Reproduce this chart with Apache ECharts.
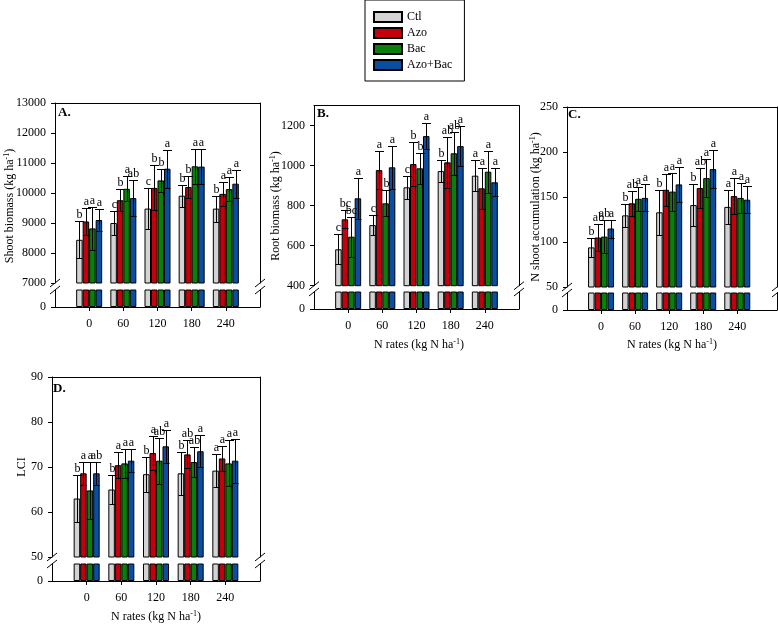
<!DOCTYPE html>
<html><head><meta charset="utf-8">
<script src="https://cdn.jsdelivr.net/npm/echarts@6/dist/echarts.min.js"></script>
<style>html,body{margin:0;padding:0;background:#fff}#c{width:778px;height:627px}</style>
</head><body><div id="c"></div>
<script>
// ---------- data ----------
const nRates = [0, 60, 120, 180, 240];
const treatments = ['Ctl', 'Azo', 'Bac', 'Azo+Bac'];

// A. Shoot biomass (kg ha-1)
const shootTicks = [7000, 8000, 9000, 10000, 11000, 12000, 13000];
const shootCtl = [8440, 9000, 9480, 9910, 9480];
const shootAzo = [9050, 9760, 10170, 10200, 9970];
const shootBac = [8820, 10140, 10420, 10890, 10130];
const shootAzoBac = [9100, 9830, 10810, 10880, 10310];
const shootCtlErr = [620, 410, 680, 370, 430];
const shootAzoErr = [450, 370, 750, 360, 390];
const shootBacErr = [710, 420, 390, 580, 390];
const shootAzoBacErr = [370, 590, 630, 590, 470];
const shootCtlSig = ['b', 'c', 'c', 'b', 'b'];
const shootAzoSig = ['a', 'b', 'b', 'b', 'a'];
const shootBacSig = ['a', 'a', 'b', 'a', 'a'];
const shootAzoBacSig = ['a', 'ab', 'a', 'a', 'a'];

// B. Root biomass (kg ha-1)
const rootTicks = [400, 600, 800, 1000, 1200];
const rootCtl = [582, 703, 892, 973, 950];
const rootAzo = [732, 978, 1008, 1017, 887];
const rootBac = [645, 812, 987, 1062, 970];
const rootAzoBac = [837, 992, 1148, 1098, 917];
const rootCtlErr = [75, 50, 58, 55, 78];
const rootAzoErr = [46, 95, 112, 128, 103];
const rootBacErr = [100, 66, 78, 108, 105];
const rootAzoBacErr = [103, 108, 67, 102, 70];
const rootCtlSig = ['c', 'c', 'c', 'b', 'a'];
const rootAzoSig = ['bc', 'a', 'b', 'ab', 'a'];
const rootBacSig = ['bc', 'b', 'b', 'ab', 'a'];
const rootAzoBacSig = ['a', 'a', 'a', 'a', 'a'];

// C. N shoot accumulation (kg ha-1)
const nTicks = [50, 100, 150, 200, 250];
const nCtl = [94, 129.6, 133, 141, 139];
const nAzo = [105, 143, 158, 160, 151];
const nBac = [106, 148, 156, 171, 149];
const nAzoBac = [115, 149, 164, 181, 147];
const nCtlErr = [11, 13, 25, 23, 19];
const nAzoErr = [15, 14, 18, 22, 20];
const nBacErr = [18, 13, 21, 21, 17];
const nAzoBacErr = [10, 15, 19, 21, 15];
const nCtlSig = ['b', 'b', 'b', 'b', 'a'];
const nAzoSig = ['ab', 'ab', 'a', 'ab', 'a'];
const nBacSig = ['ab', 'a', 'a', 'a', 'a'];
const nAzoBacSig = ['a', 'a', 'a', 'a', 'a'];

// D. LCI
const lciTicks = [50, 60, 70, 80, 90];
const lciCtl = [63.0, 65.0, 68.4, 68.6, 69.2];
const lciAzo = [68.6, 70.4, 73.1, 72.8, 71.9];
const lciBac = [64.8, 70.8, 71.4, 71.1, 70.8];
const lciAzoBac = [68.6, 71.4, 74.6, 73.5, 71.4];
const lciCtlErr = [5.2, 3.2, 3.9, 4.8, 3.7];
const lciAzoErr = [2.5, 2.9, 3.8, 3.1, 2.8];
const lciBacErr = [6.3, 3.3, 5.1, 3.3, 5.1];
const lciAzoBacErr = [2.5, 2.6, 3.7, 3.6, 4.9];
const lciCtlSig = ['b', 'b', 'b', 'b', 'a'];
const lciAzoSig = ['a', 'a', 'a', 'ab', 'a'];
const lciBacSig = ['a', 'a', 'ab', 'ab', 'a'];
const lciAzoBacSig = ['ab', 'a', 'a', 'a', 'a'];

const zeroTick = [0];

// ---------- style / layout ----------
const colors = ['#d3d3d3', '#c4000c', '#0a800a', '#0a4ea2'];
const FONT = 'Liberation Serif';
const BAR_W = 6.5;

const panels = [
  { vals: [shootCtl, shootAzo, shootBac, shootAzoBac], errs: [shootCtlErr, shootAzoErr, shootBacErr, shootAzoBacErr],
    sigs: [shootCtlSig, shootAzoSig, shootBacSig, shootAzoBacSig], ticks: shootTicks, ymin: 7000, ymax: 13000,
    xmin: -60, xmax: 300, box: { left: 55, right: 260, top: 103, mid1: 283, mid2: 290, bottom: 307 } },
  { vals: [rootCtl, rootAzo, rootBac, rootAzoBac], errs: [rootCtlErr, rootAzoErr, rootBacErr, rootAzoBacErr],
    sigs: [rootCtlSig, rootAzoSig, rootBacSig, rootAzoBacSig], ticks: rootTicks, ymin: 400, ymax: 1300,
    xmin: -60, xmax: 300, box: { left: 314, right: 519, top: 105.7, mid1: 285.7, mid2: 292, bottom: 309 } },
  { vals: [nCtl, nAzo, nBac, nAzoBac], errs: [nCtlErr, nAzoErr, nBacErr, nAzoBacErr],
    sigs: [nCtlSig, nAzoSig, nBacSig, nAzoBacSig], ticks: nTicks, ymin: 50, ymax: 250,
    xmin: -60, xmax: 310, box: { left: 567, right: 777, top: 107, mid1: 287, mid2: 293, bottom: 310 } },
  { vals: [lciCtl, lciAzo, lciBac, lciAzoBac], errs: [lciCtlErr, lciAzoErr, lciBacErr, lciAzoBacErr],
    sigs: [lciCtlSig, lciAzoSig, lciBacSig, lciAzoBacSig], ticks: lciTicks, ymin: 50, ymax: 90,
    xmin: -60, xmax: 300, box: { left: 52, right: 260, top: 377, mid1: 557, mid2: 564, bottom: 581 } }
];

const grid = [], xAxis = [], yAxis = [], series = [], graphic = [];
const lineBlack = { color: '#000', width: 1 };
const labelStyle = { fontFamily: FONT, fontSize: 12, color: '#000', formatter: v => String(v) };

function makeRender(i, sig) {
  return function (params, api) {
    const x = api.value(0), m = api.value(1), e = api.value(2);
    const off = (i - 1.5) * BAR_W;
    const top = api.coord([x, m + e]);
    const bot = api.coord([x, m - e]);
    const cx = Math.round(top[0] + off) + 0.5;
    const ty = Math.round(top[1]) + 0.5, by = Math.round(bot[1]) + 0.5;
    const st = { stroke: '#000', lineWidth: 1 };
    return {
      type: 'group',
      children: [
        { type: 'line', shape: { x1: cx, y1: by, x2: cx, y2: ty }, style: st },
        { type: 'line', shape: { x1: cx - 4.5, y1: ty, x2: cx + 4.5, y2: ty }, style: st },
        { type: 'line', shape: { x1: cx - 3, y1: by, x2: cx + 3, y2: by }, style: st },
        { type: 'text', x: cx, y: ty - 1, style: { text: sig[params.dataIndex], fontFamily: FONT, fontSize: 12,
          fill: '#000', align: 'center', verticalAlign: 'bottom' } }
      ]
    };
  };
}

panels.forEach((p, k) => {
  const b = p.box, w = b.right - b.left;
  grid.push({ left: b.left, top: b.top, width: w, height: b.mid1 - b.top });
  grid.push({ left: b.left, top: b.mid2, width: w, height: b.bottom - b.mid2 });
  xAxis.push({ gridIndex: 2 * k, type: 'value', position: 'top', min: p.xmin, max: p.xmax,
    axisLine: { show: true, onZero: false, lineStyle: lineBlack }, axisTick: { show: false },
    axisLabel: { show: false }, splitLine: { show: false } });
  xAxis.push({ gridIndex: 2 * k + 1, type: 'value', position: 'bottom', min: p.xmin, max: p.xmax,
    axisLine: { show: true, onZero: false, lineStyle: lineBlack },
    axisTick: { show: true, inside: false, length: 4, customValues: nRates, lineStyle: lineBlack },
    axisLabel: Object.assign({ customValues: nRates, margin: 11 }, labelStyle), splitLine: { show: false } });
  yAxis.push({ gridIndex: 2 * k, type: 'value', position: 'left', min: p.ymin, max: p.ymax,
    axisLine: { show: true, onZero: false, lineStyle: lineBlack },
    axisTick: { show: true, inside: false, length: 4, customValues: p.ticks, lineStyle: lineBlack },
    axisLabel: Object.assign({ customValues: p.ticks, margin: 9 }, labelStyle), splitLine: { show: false } });
  yAxis.push({ gridIndex: 2 * k, type: 'value', position: 'right', min: p.ymin, max: p.ymax,
    axisLine: { show: true, onZero: false, lineStyle: lineBlack }, axisTick: { show: false },
    axisLabel: { show: false }, splitLine: { show: false } });
  yAxis.push({ gridIndex: 2 * k + 1, type: 'value', position: 'left', min: 0, max: 1,
    axisLine: { show: true, onZero: false, lineStyle: lineBlack },
    axisTick: { show: true, inside: false, length: 4, customValues: zeroTick, lineStyle: lineBlack },
    axisLabel: Object.assign({ customValues: zeroTick, margin: 9 }, labelStyle), splitLine: { show: false } });
  yAxis.push({ gridIndex: 2 * k + 1, type: 'value', position: 'right', min: 0, max: 1,
    axisLine: { show: true, onZero: false, lineStyle: lineBlack }, axisTick: { show: false },
    axisLabel: { show: false }, splitLine: { show: false } });

  for (let i = 0; i < 4; i++) {
    const barData = nRates.map((x, j) => [x, p.vals[i][j]]);
    const base = { type: 'bar', name: treatments[i], barWidth: BAR_W, barGap: '0%', clip: true, silent: true,
      itemStyle: { color: colors[i], borderColor: '#000', borderWidth: 1 } };
    series.push(Object.assign({}, base, { xAxisIndex: 2 * k, yAxisIndex: 4 * k, data: barData }));
    series.push(Object.assign({}, base, { xAxisIndex: 2 * k + 1, yAxisIndex: 4 * k + 2, data: barData }));
  }
  for (let i = 0; i < 4; i++) {
    series.push({ type: 'custom', name: 'err' + i, xAxisIndex: 2 * k, yAxisIndex: 4 * k, z: 5, silent: true,
      data: nRates.map((x, j) => [x, p.vals[i][j], p.errs[i][j]]), encode: { x: 0, y: 1 },
      renderItem: makeRender(i, p.sigs[i]) });
  }
  // axis break marks
  [b.left, b.right].forEach(x => {
    [b.mid1, b.mid2].forEach(y => {
      graphic.push({ type: 'line', silent: true, shape: { x1: x - 5, y1: y + 4, x2: x + 5, y2: y - 4 },
        style: { stroke: '#000', lineWidth: 1 } });
    });
  });
});

function title(text, x, y, rot) {
  return { type: 'text', x: x, y: y, rotation: rot ? Math.PI / 2 : 0, silent: true,
    style: { text: text, fontFamily: FONT, fontSize: 12, lineHeight: 15, fill: '#000', align: 'center', verticalAlign: 'middle',
      rich: { sup: { fontFamily: FONT, fontSize: 8, lineHeight: 8, verticalAlign: 'top', fill: '#000' } } } };
}
function letter(text, x, y) {
  return { type: 'text', x: x, y: y, silent: true,
    style: { text: text, fontFamily: FONT, fontSize: 13, fontWeight: 'bold', fill: '#000', align: 'left', verticalAlign: 'middle' } };
}
graphic.push(title('Shoot biomass (kg ha{sup|-1})', 10, 206, true));
graphic.push(title('Root biomass (kg ha{sup|-1})', 276, 206, true));
graphic.push(title('N shoot accumulation (kg ha{sup|-1})', 536, 207, true));
graphic.push(title('LCI', 22, 467, true));
graphic.push(title('N rates (kg N ha{sup|-1})', 419, 345, false));
graphic.push(title('N rates (kg N ha{sup|-1})', 672, 345, false));
graphic.push(title('N rates (kg N ha{sup|-1})', 156, 617, false));
graphic.push(letter('A.', 58, 113));
graphic.push(letter('B.', 317, 114));
graphic.push(letter('C.', 568, 115));
graphic.push(letter('D.', 53, 389));

const chart = echarts.init(document.getElementById('c'), null, { renderer: 'canvas' });
chart.setOption({
  animation: false,
  backgroundColor: '#fff',
  legend: {
    data: treatments, orient: 'vertical', left: 365, top: 0, icon: 'rect',
    itemWidth: 28, itemHeight: 10, itemGap: 4, padding: [11, 12, 10, 8],
    borderColor: '#000', borderWidth: 1, selectedMode: false,
    textStyle: { fontFamily: FONT, fontSize: 12, color: '#000', lineHeight: 12 }
  },
  grid: grid, xAxis: xAxis, yAxis: yAxis, series: series, graphic: graphic
});
</script></body></html>
